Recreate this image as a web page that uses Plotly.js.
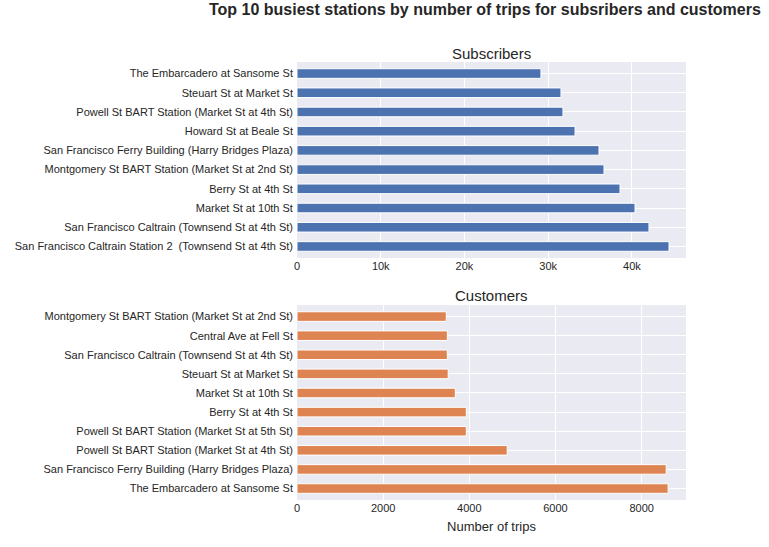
<!DOCTYPE html>
<html>
<head>
<meta charset="utf-8">
<script src="https://cdn.plot.ly/plotly-3.0.1.min.js"></script>
<style>body{margin:0;background:#fff}</style>
</head>
<body>
<div id="myChart" style="width:769px;height:547px"></div>
<script>
// listed bottom to top, as drawn
const subStations = ['San Francisco Caltrain Station 2  (Townsend St at 4th St)', 'San Francisco Caltrain (Townsend St at 4th St)', 'Market St at 10th St', 'Berry St at 4th St', 'Montgomery St BART Station (Market St at 2nd St)', 'San Francisco Ferry Building (Harry Bridges Plaza)', 'Howard St at Beale St', 'Powell St BART Station (Market St at 4th St)', 'Steuart St at Market St', 'The Embarcadero at Sansome St'];
const subTrips = [44420, 42030, 40360, 38570, 36660, 36060, 33200, 31760, 31520, 29130];
const custStations = ['The Embarcadero at Sansome St', 'San Francisco Ferry Building (Harry Bridges Plaza)', 'Powell St BART Station (Market St at 4th St)', 'Powell St BART Station (Market St at 5th St)', 'Berry St at 4th St', 'Market St at 10th St', 'Steuart St at Market St', 'San Francisco Caltrain (Townsend St at 4th St)', 'Central Ave at Fell St', 'Montgomery St BART Station (Market St at 2nd St)'];
const custTrips = [8615, 8570, 4880, 3930, 3930, 3675, 3510, 3490, 3490, 3465];

const txt = '#262626';
var trace1 = {
	type: 'bar', orientation: 'h', x: subTrips, y: subStations, width: 0.5,
	marker: {color: '#4C72B0', line: {color: '#fff', width: 1}},
	xaxis: 'x', yaxis: 'y', hoverinfo: 'x+y'};
var trace2 = {
	type: 'bar', orientation: 'h', x: custTrips, y: custStations, width: 0.5,
	marker: {color: '#DD8452', line: {color: '#fff', width: 1}},
	xaxis: 'x2', yaxis: 'y2', hoverinfo: 'x+y'};

function ax(extra){
	return Object.assign({showgrid: true, gridcolor: '#fff', gridwidth: 1, zeroline: false,
		ticks: '', showline: false, tickfont: {size: 11, color: txt}, fixedrange: true}, extra);
}
var layout = {
	showlegend: false,
	paper_bgcolor: '#fff', plot_bgcolor: '#EAEAF2',
	font: {family: 'Arial, Liberation Sans, sans-serif', color: txt},
	margin: {l: 297, r: 83, t: 62, b: 47},
	bargap: 0.5,
	xaxis: ax({domain: [0, 1], range: [0, 46450], dtick: 10000, anchor: 'y'}),
	yaxis: ax({domain: [0.5525, 1], anchor: 'x', range: [-0.6, 9.6], ticksuffix: ' '}),
	xaxis2: ax({domain: [0, 1], range: [0, 9030], dtick: 2000, anchor: 'y2',
		title: {text: 'Number of trips', font: {size: 13, color: txt}, standoff: 8}}),
	yaxis2: ax({domain: [0, 0.445], anchor: 'x2', range: [-0.6, 9.6], ticksuffix: ' '}),
	annotations: [
		{text: '<b>Top 10 busiest stations by number of trips for subsribers and customers</b>', xref: 'paper', yref: 'paper', x: 0.485, y: 1.12, xanchor: 'center', yanchor: 'middle', showarrow: false, font: {size: 16, color: txt}, xshift: 0},
		{text: 'Subscribers', xref: 'paper', yref: 'paper', x: 0.5, y: 1.02, xanchor: 'center', yanchor: 'middle', showarrow: false, font: {size: 15, color: txt}},
		{text: 'Customers', xref: 'paper', yref: 'paper', x: 0.5, y: 0.467, xanchor: 'center', yanchor: 'middle', showarrow: false, font: {size: 15, color: txt}}
	]
};
// main title spans wider than the plot, shift it to the figure position
layout.annotations[0].x = (485 - 297) / 389;
Plotly.newPlot('myChart', [trace1, trace2], layout, {displayModeBar: false, staticPlot: true});
</script>
</body>
</html>
